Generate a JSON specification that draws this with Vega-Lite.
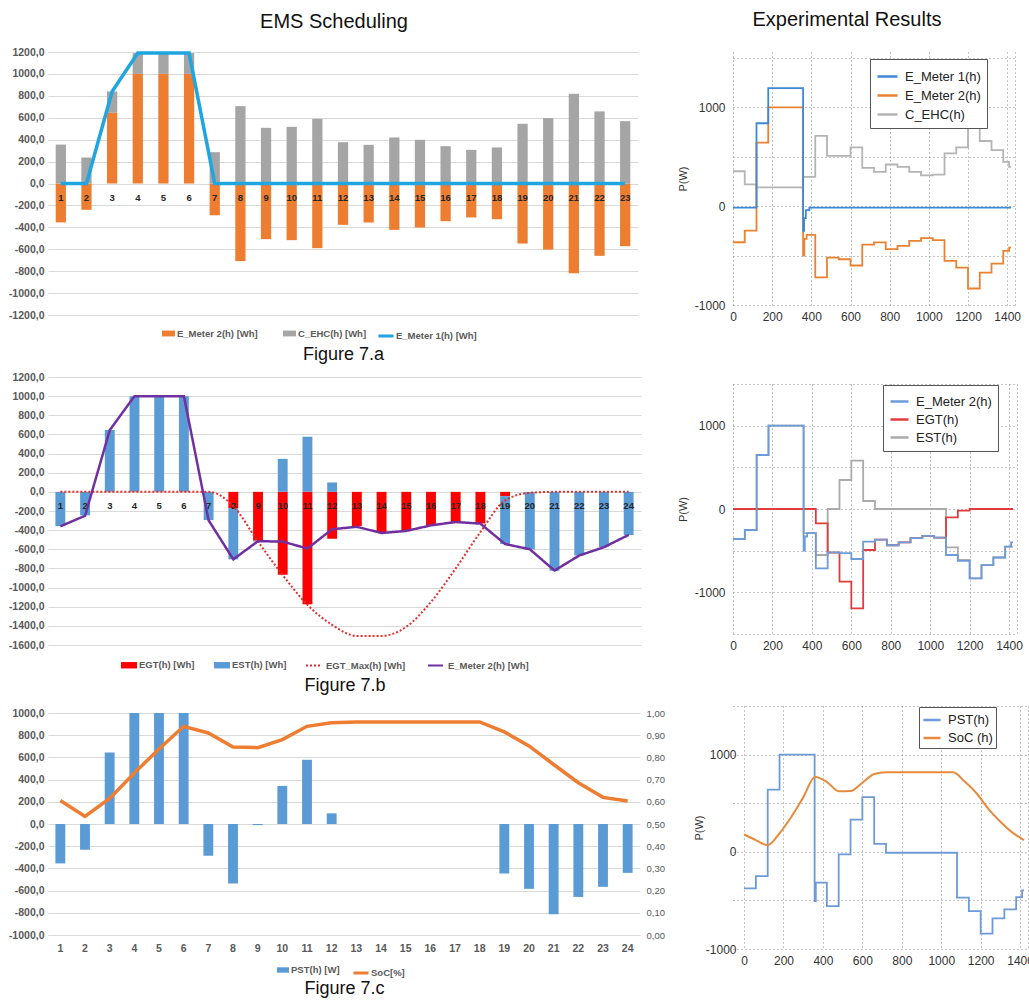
{
  "$schema": "https://vega.github.io/schema/vega-lite/v6.json",
  "padding": {"left": 8, "top": 10, "right": 0, "bottom": 0},
  "background": "white",
  "config": {
    "font": "Liberation Sans",
    "view": {"stroke": null},
    "legend": {"labelFont": "Liberation Sans"},
    "axis": {"labelFont": "Liberation Sans", "titleFont": "Liberation Sans", "labelOverlap": false}
  },
  "datasets": {
    "a_bars": [
      {"h":1,"s":"E_Meter 2(h) [Wh]","v":-355},{"h":1,"s":"C_EHC(h) [Wh]","v":355},
      {"h":2,"s":"E_Meter 2(h) [Wh]","v":-240},{"h":2,"s":"C_EHC(h) [Wh]","v":237},
      {"h":3,"s":"E_Meter 2(h) [Wh]","v":645},{"h":3,"s":"C_EHC(h) [Wh]","v":195},
      {"h":4,"s":"E_Meter 2(h) [Wh]","v":1000},{"h":4,"s":"C_EHC(h) [Wh]","v":190},
      {"h":5,"s":"E_Meter 2(h) [Wh]","v":1000},{"h":5,"s":"C_EHC(h) [Wh]","v":190},
      {"h":6,"s":"E_Meter 2(h) [Wh]","v":1000},{"h":6,"s":"C_EHC(h) [Wh]","v":190},
      {"h":7,"s":"E_Meter 2(h) [Wh]","v":-290},{"h":7,"s":"C_EHC(h) [Wh]","v":286},
      {"h":8,"s":"E_Meter 2(h) [Wh]","v":-708},{"h":8,"s":"C_EHC(h) [Wh]","v":706},
      {"h":9,"s":"E_Meter 2(h) [Wh]","v":-508},{"h":9,"s":"C_EHC(h) [Wh]","v":508},
      {"h":10,"s":"E_Meter 2(h) [Wh]","v":-517},{"h":10,"s":"C_EHC(h) [Wh]","v":517},
      {"h":11,"s":"E_Meter 2(h) [Wh]","v":-590},{"h":11,"s":"C_EHC(h) [Wh]","v":590},
      {"h":12,"s":"E_Meter 2(h) [Wh]","v":-377},{"h":12,"s":"C_EHC(h) [Wh]","v":377},
      {"h":13,"s":"E_Meter 2(h) [Wh]","v":-356},{"h":13,"s":"C_EHC(h) [Wh]","v":353},
      {"h":14,"s":"E_Meter 2(h) [Wh]","v":-423},{"h":14,"s":"C_EHC(h) [Wh]","v":420},
      {"h":15,"s":"E_Meter 2(h) [Wh]","v":-402},{"h":15,"s":"C_EHC(h) [Wh]","v":399},
      {"h":16,"s":"E_Meter 2(h) [Wh]","v":-344},{"h":16,"s":"C_EHC(h) [Wh]","v":341},
      {"h":17,"s":"E_Meter 2(h) [Wh]","v":-310},{"h":17,"s":"C_EHC(h) [Wh]","v":307},
      {"h":18,"s":"E_Meter 2(h) [Wh]","v":-326},{"h":18,"s":"C_EHC(h) [Wh]","v":329},
      {"h":19,"s":"E_Meter 2(h) [Wh]","v":-548},{"h":19,"s":"C_EHC(h) [Wh]","v":545},
      {"h":20,"s":"E_Meter 2(h) [Wh]","v":-603},{"h":20,"s":"C_EHC(h) [Wh]","v":597},
      {"h":21,"s":"E_Meter 2(h) [Wh]","v":-819},{"h":21,"s":"C_EHC(h) [Wh]","v":819},
      {"h":22,"s":"E_Meter 2(h) [Wh]","v":-660},{"h":22,"s":"C_EHC(h) [Wh]","v":658},
      {"h":23,"s":"E_Meter 2(h) [Wh]","v":-572},{"h":23,"s":"C_EHC(h) [Wh]","v":569}
    ],
    "a_line": [
      {"h":1,"s":"E_Meter 1(h) [Wh]","v":0},{"h":2,"s":"E_Meter 1(h) [Wh]","v":0},
      {"h":3,"s":"E_Meter 1(h) [Wh]","v":840},{"h":4,"s":"E_Meter 1(h) [Wh]","v":1190},
      {"h":5,"s":"E_Meter 1(h) [Wh]","v":1190},{"h":6,"s":"E_Meter 1(h) [Wh]","v":1190},
      {"h":7,"s":"E_Meter 1(h) [Wh]","v":0},{"h":8,"s":"E_Meter 1(h) [Wh]","v":0},
      {"h":9,"s":"E_Meter 1(h) [Wh]","v":0},{"h":10,"s":"E_Meter 1(h) [Wh]","v":0},
      {"h":11,"s":"E_Meter 1(h) [Wh]","v":0},{"h":12,"s":"E_Meter 1(h) [Wh]","v":0},
      {"h":13,"s":"E_Meter 1(h) [Wh]","v":0},{"h":14,"s":"E_Meter 1(h) [Wh]","v":0},
      {"h":15,"s":"E_Meter 1(h) [Wh]","v":0},{"h":16,"s":"E_Meter 1(h) [Wh]","v":0},
      {"h":17,"s":"E_Meter 1(h) [Wh]","v":0},{"h":18,"s":"E_Meter 1(h) [Wh]","v":0},
      {"h":19,"s":"E_Meter 1(h) [Wh]","v":0},{"h":20,"s":"E_Meter 1(h) [Wh]","v":0},
      {"h":21,"s":"E_Meter 1(h) [Wh]","v":0},{"h":22,"s":"E_Meter 1(h) [Wh]","v":0},
      {"h":23,"s":"E_Meter 1(h) [Wh]","v":0}
    ],
    "hours24": [
      {"h":1},{"h":2},{"h":3},{"h":4},{"h":5},{"h":6},{"h":7},{"h":8},{"h":9},{"h":10},{"h":11},{"h":12},
      {"h":13},{"h":14},{"h":15},{"h":16},{"h":17},{"h":18},{"h":19},{"h":20},{"h":21},{"h":22},{"h":23},{"h":24}
    ],
    "b_bars": [
      {"h":1,"s":"EST(h) [Wh]","v":-358},{"h":2,"s":"EST(h) [Wh]","v":-245},{"h":3,"s":"EST(h) [Wh]","v":647},
      {"h":4,"s":"EST(h) [Wh]","v":1000},{"h":5,"s":"EST(h) [Wh]","v":1000},{"h":6,"s":"EST(h) [Wh]","v":1000},
      {"h":7,"s":"EST(h) [Wh]","v":-295},{"h":8,"s":"EGT(h) [Wh]","v":-170},{"h":8,"s":"EST(h) [Wh]","v":-535},
      {"h":9,"s":"EGT(h) [Wh]","v":-510},{"h":9,"s":"EST(h) [Wh]","v":-8},
      {"h":10,"s":"EGT(h) [Wh]","v":-866},{"h":10,"s":"EST(h) [Wh]","v":345},
      {"h":11,"s":"EGT(h) [Wh]","v":-1175},{"h":11,"s":"EST(h) [Wh]","v":577},
      {"h":12,"s":"EGT(h) [Wh]","v":-490},{"h":12,"s":"EST(h) [Wh]","v":98},
      {"h":13,"s":"EGT(h) [Wh]","v":-357},{"h":14,"s":"EGT(h) [Wh]","v":-430},{"h":15,"s":"EGT(h) [Wh]","v":-402},
      {"h":16,"s":"EGT(h) [Wh]","v":-350},{"h":17,"s":"EGT(h) [Wh]","v":-315},{"h":18,"s":"EGT(h) [Wh]","v":-330},
      {"h":19,"s":"EGT(h) [Wh]","v":-45},{"h":19,"s":"EST(h) [Wh]","v":-500},
      {"h":20,"s":"EST(h) [Wh]","v":-600},{"h":21,"s":"EST(h) [Wh]","v":-825},{"h":22,"s":"EST(h) [Wh]","v":-665},
      {"h":23,"s":"EST(h) [Wh]","v":-578},{"h":24,"s":"EST(h) [Wh]","v":-452}
    ],
    "b_max": [
      {"h":1,"s":"EGT_Max(h) [Wh]","v":0},{"h":2,"s":"EGT_Max(h) [Wh]","v":0},{"h":3,"s":"EGT_Max(h) [Wh]","v":0},
      {"h":4,"s":"EGT_Max(h) [Wh]","v":0},{"h":5,"s":"EGT_Max(h) [Wh]","v":0},{"h":6,"s":"EGT_Max(h) [Wh]","v":0},
      {"h":7,"s":"EGT_Max(h) [Wh]","v":0},{"h":8,"s":"EGT_Max(h) [Wh]","v":-150},{"h":9,"s":"EGT_Max(h) [Wh]","v":-520},
      {"h":10,"s":"EGT_Max(h) [Wh]","v":-870},{"h":11,"s":"EGT_Max(h) [Wh]","v":-1180},{"h":12,"s":"EGT_Max(h) [Wh]","v":-1390},
      {"h":13,"s":"EGT_Max(h) [Wh]","v":-1505},{"h":14,"s":"EGT_Max(h) [Wh]","v":-1505},{"h":15,"s":"EGT_Max(h) [Wh]","v":-1410},
      {"h":16,"s":"EGT_Max(h) [Wh]","v":-1150},{"h":17,"s":"EGT_Max(h) [Wh]","v":-800},{"h":18,"s":"EGT_Max(h) [Wh]","v":-420},
      {"h":19,"s":"EGT_Max(h) [Wh]","v":-90},{"h":20,"s":"EGT_Max(h) [Wh]","v":-10},{"h":21,"s":"EGT_Max(h) [Wh]","v":0},
      {"h":22,"s":"EGT_Max(h) [Wh]","v":0},{"h":23,"s":"EGT_Max(h) [Wh]","v":0},{"h":24,"s":"EGT_Max(h) [Wh]","v":0}
    ],
    "b_em2": [
      {"h":1,"s":"E_Meter 2(h) [Wh]","v":-360},{"h":2,"s":"E_Meter 2(h) [Wh]","v":-250},{"h":3,"s":"E_Meter 2(h) [Wh]","v":645},
      {"h":4,"s":"E_Meter 2(h) [Wh]","v":1000},{"h":5,"s":"E_Meter 2(h) [Wh]","v":1000},{"h":6,"s":"E_Meter 2(h) [Wh]","v":1000},
      {"h":7,"s":"E_Meter 2(h) [Wh]","v":-297},{"h":8,"s":"E_Meter 2(h) [Wh]","v":-705},{"h":9,"s":"E_Meter 2(h) [Wh]","v":-515},
      {"h":10,"s":"E_Meter 2(h) [Wh]","v":-520},{"h":11,"s":"E_Meter 2(h) [Wh]","v":-592},{"h":12,"s":"E_Meter 2(h) [Wh]","v":-390},
      {"h":13,"s":"E_Meter 2(h) [Wh]","v":-365},{"h":14,"s":"E_Meter 2(h) [Wh]","v":-430},{"h":15,"s":"E_Meter 2(h) [Wh]","v":-408},
      {"h":16,"s":"E_Meter 2(h) [Wh]","v":-350},{"h":17,"s":"E_Meter 2(h) [Wh]","v":-315},{"h":18,"s":"E_Meter 2(h) [Wh]","v":-332},
      {"h":19,"s":"E_Meter 2(h) [Wh]","v":-545},{"h":20,"s":"E_Meter 2(h) [Wh]","v":-600},{"h":21,"s":"E_Meter 2(h) [Wh]","v":-822},
      {"h":22,"s":"E_Meter 2(h) [Wh]","v":-665},{"h":23,"s":"E_Meter 2(h) [Wh]","v":-578},{"h":24,"s":"E_Meter 2(h) [Wh]","v":-450}
    ],
    "c_bars": [
      {"h":1,"s":"PST(h) [W]","v":-355},{"h":2,"s":"PST(h) [W]","v":-232},{"h":3,"s":"PST(h) [W]","v":645},
      {"h":4,"s":"PST(h) [W]","v":1000},{"h":5,"s":"PST(h) [W]","v":1000},{"h":6,"s":"PST(h) [W]","v":1000},
      {"h":7,"s":"PST(h) [W]","v":-286},{"h":8,"s":"PST(h) [W]","v":-536},{"h":9,"s":"PST(h) [W]","v":-10},
      {"h":10,"s":"PST(h) [W]","v":343},{"h":11,"s":"PST(h) [W]","v":578},{"h":12,"s":"PST(h) [W]","v":96},
      {"h":19,"s":"PST(h) [W]","v":-446},{"h":20,"s":"PST(h) [W]","v":-584},{"h":21,"s":"PST(h) [W]","v":-813},
      {"h":22,"s":"PST(h) [W]","v":-657},{"h":23,"s":"PST(h) [W]","v":-566},{"h":24,"s":"PST(h) [W]","v":-440}
    ],
    "c_line": [
      {"h":1,"s":"SoC[%]","soc":0.606},{"h":2,"s":"SoC[%]","soc":0.534},{"h":3,"s":"SoC[%]","soc":0.615},
      {"h":4,"s":"SoC[%]","soc":0.73},{"h":5,"s":"SoC[%]","soc":0.838},{"h":6,"s":"SoC[%]","soc":0.94},
      {"h":7,"s":"SoC[%]","soc":0.91},{"h":8,"s":"SoC[%]","soc":0.847},{"h":9,"s":"SoC[%]","soc":0.844},
      {"h":10,"s":"SoC[%]","soc":0.88},{"h":11,"s":"SoC[%]","soc":0.94},{"h":12,"s":"SoC[%]","soc":0.956},
      {"h":13,"s":"SoC[%]","soc":0.96},{"h":14,"s":"SoC[%]","soc":0.96},{"h":15,"s":"SoC[%]","soc":0.96},
      {"h":16,"s":"SoC[%]","soc":0.96},{"h":17,"s":"SoC[%]","soc":0.96},{"h":18,"s":"SoC[%]","soc":0.96},
      {"h":19,"s":"SoC[%]","soc":0.915},{"h":20,"s":"SoC[%]","soc":0.852},{"h":21,"s":"SoC[%]","soc":0.768},
      {"h":22,"s":"SoC[%]","soc":0.686},{"h":23,"s":"SoC[%]","soc":0.62},{"h":24,"s":"SoC[%]","soc":0.604}
    ],
    "ra": [
      {"t":0,"s":"C_EHC(h)","v":354},{"t":60,"s":"C_EHC(h)","v":221},{"t":120,"s":"C_EHC(h)","v":190},{"t":358,"s":"C_EHC(h)","v":296},
      {"t":420,"s":"C_EHC(h)","v":711},{"t":480,"s":"C_EHC(h)","v":510},{"t":600,"s":"C_EHC(h)","v":595},{"t":660,"s":"C_EHC(h)","v":388},
      {"t":720,"s":"C_EHC(h)","v":347},{"t":780,"s":"C_EHC(h)","v":422},{"t":840,"s":"C_EHC(h)","v":398},{"t":900,"s":"C_EHC(h)","v":347},
      {"t":960,"s":"C_EHC(h)","v":313},{"t":1020,"s":"C_EHC(h)","v":320},{"t":1080,"s":"C_EHC(h)","v":534},{"t":1140,"s":"C_EHC(h)","v":595},
      {"t":1200,"s":"C_EHC(h)","v":813},{"t":1260,"s":"C_EHC(h)","v":660},{"t":1320,"s":"C_EHC(h)","v":568},{"t":1380,"s":"C_EHC(h)","v":449},
      {"t":1410,"s":"C_EHC(h)","v":398},{"t":1420,"s":"C_EHC(h)","v":398},
      {"t":0,"s":"E_Meter 2(h)","v":-365},{"t":60,"s":"E_Meter 2(h)","v":-248},{"t":120,"s":"E_Meter 2(h)","v":643},{"t":180,"s":"E_Meter 2(h)","v":1000},
      {"t":358,"s":"E_Meter 2(h)","v":-500},{"t":364,"s":"E_Meter 2(h)","v":-330},{"t":376,"s":"E_Meter 2(h)","v":-290},{"t":420,"s":"E_Meter 2(h)","v":-720},
      {"t":480,"s":"E_Meter 2(h)","v":-520},{"t":540,"s":"E_Meter 2(h)","v":-537},{"t":600,"s":"E_Meter 2(h)","v":-600},{"t":660,"s":"E_Meter 2(h)","v":-388},
      {"t":720,"s":"E_Meter 2(h)","v":-367},{"t":780,"s":"E_Meter 2(h)","v":-435},{"t":840,"s":"E_Meter 2(h)","v":-401},{"t":900,"s":"E_Meter 2(h)","v":-350},
      {"t":960,"s":"E_Meter 2(h)","v":-323},{"t":1020,"s":"E_Meter 2(h)","v":-343},{"t":1080,"s":"E_Meter 2(h)","v":-554},{"t":1140,"s":"E_Meter 2(h)","v":-622},
      {"t":1200,"s":"E_Meter 2(h)","v":-833},{"t":1260,"s":"E_Meter 2(h)","v":-673},{"t":1320,"s":"E_Meter 2(h)","v":-582},{"t":1380,"s":"E_Meter 2(h)","v":-452},
      {"t":1410,"s":"E_Meter 2(h)","v":-420},{"t":1420,"s":"E_Meter 2(h)","v":-420},
      {"t":0,"s":"E_Meter 1(h)","v":-15},{"t":120,"s":"E_Meter 1(h)","v":840},{"t":180,"s":"E_Meter 1(h)","v":1195},{"t":358,"s":"E_Meter 1(h)","v":-250},
      {"t":363,"s":"E_Meter 1(h)","v":-120},{"t":372,"s":"E_Meter 1(h)","v":-40},{"t":390,"s":"E_Meter 1(h)","v":-15},{"t":1420,"s":"E_Meter 1(h)","v":-15}
    ],
    "rb": [
      {"t":0,"s":"EST(h)","v":-360},{"t":60,"s":"EST(h)","v":-252},{"t":120,"s":"EST(h)","v":648},{"t":180,"s":"EST(h)","v":1000},
      {"t":358,"s":"EST(h)","v":-290},{"t":420,"s":"EST(h)","v":-552},{"t":480,"s":"EST(h)","v":0},{"t":540,"s":"EST(h)","v":348},
      {"t":600,"s":"EST(h)","v":580},{"t":660,"s":"EST(h)","v":96},{"t":720,"s":"EST(h)","v":0},{"t":1080,"s":"EST(h)","v":-460},
      {"t":1140,"s":"EST(h)","v":-610},{"t":1200,"s":"EST(h)","v":-833},{"t":1260,"s":"EST(h)","v":-673},{"t":1320,"s":"EST(h)","v":-582},
      {"t":1380,"s":"EST(h)","v":-452},{"t":1420,"s":"EST(h)","v":-452},
      {"t":0,"s":"EGT(h)","v":0},{"t":420,"s":"EGT(h)","v":-172},{"t":480,"s":"EGT(h)","v":-524},{"t":540,"s":"EGT(h)","v":-872},
      {"t":600,"s":"EGT(h)","v":-1192},{"t":660,"s":"EGT(h)","v":-492},{"t":720,"s":"EGT(h)","v":-367},{"t":780,"s":"EGT(h)","v":-435},
      {"t":840,"s":"EGT(h)","v":-401},{"t":900,"s":"EGT(h)","v":-350},{"t":960,"s":"EGT(h)","v":-323},{"t":1020,"s":"EGT(h)","v":-343},
      {"t":1080,"s":"EGT(h)","v":-100},{"t":1140,"s":"EGT(h)","v":-20},{"t":1200,"s":"EGT(h)","v":0},{"t":1420,"s":"EGT(h)","v":0},
      {"t":0,"s":"E_Meter 2(h)","v":-360},{"t":60,"s":"E_Meter 2(h)","v":-252},{"t":120,"s":"E_Meter 2(h)","v":648},{"t":180,"s":"E_Meter 2(h)","v":1000},
      {"t":358,"s":"E_Meter 2(h)","v":-500},{"t":364,"s":"E_Meter 2(h)","v":-330},{"t":376,"s":"E_Meter 2(h)","v":-290},{"t":420,"s":"E_Meter 2(h)","v":-712},
      {"t":480,"s":"E_Meter 2(h)","v":-520},{"t":540,"s":"E_Meter 2(h)","v":-530},{"t":600,"s":"E_Meter 2(h)","v":-600},{"t":660,"s":"E_Meter 2(h)","v":-392},
      {"t":720,"s":"E_Meter 2(h)","v":-367},{"t":780,"s":"E_Meter 2(h)","v":-435},{"t":840,"s":"E_Meter 2(h)","v":-401},{"t":900,"s":"E_Meter 2(h)","v":-350},
      {"t":960,"s":"E_Meter 2(h)","v":-323},{"t":1020,"s":"E_Meter 2(h)","v":-343},{"t":1080,"s":"E_Meter 2(h)","v":-552},{"t":1140,"s":"E_Meter 2(h)","v":-622},
      {"t":1200,"s":"E_Meter 2(h)","v":-833},{"t":1260,"s":"E_Meter 2(h)","v":-673},{"t":1320,"s":"E_Meter 2(h)","v":-582},{"t":1380,"s":"E_Meter 2(h)","v":-452},
      {"t":1410,"s":"E_Meter 2(h)","v":-400},{"t":1420,"s":"E_Meter 2(h)","v":-400}
    ],
    "rc_step": [
      {"t":0,"s":"PST(h)","v":-377},{"t":60,"s":"PST(h)","v":-250},{"t":120,"s":"PST(h)","v":640},{"t":180,"s":"PST(h)","v":1000},
      {"t":358,"s":"PST(h)","v":-507},{"t":364,"s":"PST(h)","v":-318},{"t":420,"s":"PST(h)","v":-558},{"t":480,"s":"PST(h)","v":-27},
      {"t":540,"s":"PST(h)","v":332},{"t":600,"s":"PST(h)","v":562},{"t":660,"s":"PST(h)","v":82},{"t":720,"s":"PST(h)","v":-10},
      {"t":1080,"s":"PST(h)","v":-472},{"t":1140,"s":"PST(h)","v":-610},{"t":1200,"s":"PST(h)","v":-842},{"t":1260,"s":"PST(h)","v":-685},
      {"t":1320,"s":"PST(h)","v":-592},{"t":1380,"s":"PST(h)","v":-466},{"t":1410,"s":"PST(h)","v":-397},{"t":1420,"s":"PST(h)","v":-397}
    ],
    "rc_soc": [
      {"t":0,"s":"SoC (h)","v":178},{"t":60,"s":"SoC (h)","v":120},{"t":120,"s":"SoC (h)","v":68},{"t":180,"s":"SoC (h)","v":190},
      {"t":240,"s":"SoC (h)","v":360},{"t":300,"s":"SoC (h)","v":560},{"t":360,"s":"SoC (h)","v":770},{"t":420,"s":"SoC (h)","v":720},
      {"t":480,"s":"SoC (h)","v":623},{"t":540,"s":"SoC (h)","v":625},{"t":600,"s":"SoC (h)","v":710},{"t":660,"s":"SoC (h)","v":800},
      {"t":720,"s":"SoC (h)","v":818},{"t":1060,"s":"SoC (h)","v":818},{"t":1120,"s":"SoC (h)","v":720},{"t":1180,"s":"SoC (h)","v":600},
      {"t":1240,"s":"SoC (h)","v":440},{"t":1300,"s":"SoC (h)","v":310},{"t":1360,"s":"SoC (h)","v":200},{"t":1420,"s":"SoC (h)","v":120}
    ]
  },
  "resolve": {"scale": {"color": "independent", "stroke": "independent", "strokeDash": "independent", "x": "independent", "y": "independent"}, "legend": {"color": "independent", "stroke": "independent", "strokeDash": "independent"}},
  "spacing": 12,
  "hconcat": [
    {
      "resolve": {"scale": {"color": "independent", "stroke": "independent", "strokeDash": "independent", "x": "independent", "y": "independent"}, "legend": {"color": "independent", "stroke": "independent", "strokeDash": "independent"}},
      "spacing": 9,
      "vconcat": [
        {
          "width": 590, "height": 263,
          "view": {"stroke": null},
          "title": {"text": "EMS Scheduling", "fontSize": 20, "fontWeight": "normal", "color": "#111", "font": "Liberation Sans", "anchor": "middle", "frame": "group", "dx": -9, "offset": 14},
          "encoding": {
            "x": {"field": "h", "type": "ordinal", "scale": {"paddingInner": 0.6, "paddingOuter": 0.3},
                  "axis": {"labels": false, "ticks": false, "domain": false, "grid": false, "title": "Figure 7.a", "titleFontSize": 18, "titleFontWeight": "normal", "titleColor": "#111", "titlePadding": 30}}
          },
          "layer": [
            {
              "data": {"name": "a_bars"},
              "mark": {"type": "bar"},
              "encoding": {
                "y": {"field": "v", "type": "quantitative", "stack": "zero", "scale": {"domain": [-1200, 1200], "nice": false},
                      "axis": {"values": [-1200,-1000,-800,-600,-400,-200,0,200,400,600,800,1000,1200], "labelExpr": "toString(datum.value) + ',0'", "labelOverlap": false, "labelSeparation": 0, "grid": true, "gridColor": "#d9d9d9", "domain": false, "ticks": false, "labelFontSize": 10.5, "labelFontWeight": "bold", "labelColor": "#595959", "labelPadding": 4, "title": null}},
                "color": {"field": "s", "type": "nominal", "scale": {"domain": ["E_Meter 2(h) [Wh]", "C_EHC(h) [Wh]"], "range": ["#ed7d31", "#a5a5a5"]},
                          "legend": {"orient": "none", "legendX": 114, "legendY": 275, "direction": "horizontal", "title": null, "symbolType": "M-1,-0.45L1,-0.45L1,0.45L-1,0.45Z", "symbolSize": 169, "symbolStrokeWidth": 0, "labelFontSize": 9.5, "labelFontWeight": "bold", "labelColor": "#595959", "columnPadding": 25, "labelOffset": 2}},
                "order": {"field": "s", "sort": "descending"}
              }
            },
            {
              "data": {"name": "a_line"},
              "mark": {"type": "text", "dy": 14, "fontSize": 9.5, "fontWeight": "bold", "color": "#262626"},
              "encoding": {"y": {"datum": 0, "type": "quantitative", "axis": {"values": [-1200,-1000,-800,-600,-400,-200,0,200,400,600,800,1000,1200], "labelExpr": "toString(datum.value) + ',0'", "labelOverlap": false, "labelSeparation": 0, "grid": true, "gridColor": "#d9d9d9", "domain": false, "ticks": false, "labelFontSize": 10.5, "labelFontWeight": "bold", "labelColor": "#595959", "labelPadding": 4, "title": null}}, "text": {"field": "h", "type": "nominal"}}
            },
            {
              "data": {"name": "a_line"},
              "mark": {"type": "line", "strokeWidth": 3.5},
              "encoding": {
                "y": {"field": "v", "type": "quantitative", "axis": {"values": [-1200,-1000,-800,-600,-400,-200,0,200,400,600,800,1000,1200], "labelExpr": "toString(datum.value) + ',0'", "labelOverlap": false, "labelSeparation": 0, "grid": true, "gridColor": "#d9d9d9", "domain": false, "ticks": false, "labelFontSize": 10.5, "labelFontWeight": "bold", "labelColor": "#595959", "labelPadding": 4, "title": null}},
                "stroke": {"field": "s", "type": "nominal", "scale": {"domain": ["E_Meter 1(h) [Wh]"], "range": ["#1fa5e0"]},
                           "legend": {"orient": "none", "legendX": 329, "legendY": 275, "direction": "horizontal", "title": null, "symbolType": "stroke", "symbolSize": 225, "symbolStrokeWidth": 3, "labelFontSize": 9.5, "labelFontWeight": "bold", "labelColor": "#595959", "labelOffset": 1}}
              }
            }
          ]
        },
        {
          "resolve": {"scale": {"color": "independent", "stroke": "independent", "strokeDash": "independent", "x": "independent", "y": "independent"}, "legend": {"color": "independent", "stroke": "independent", "strokeDash": "independent"}},
          "spacing": 14,
          "vconcat": [
            {
              "width": 593, "height": 268,
              "view": {"stroke": null},
              "encoding": {
                "x": {"field": "h", "type": "ordinal", "scale": {"paddingInner": 0.6, "paddingOuter": 0.3},
                      "axis": {"labels": false, "ticks": false, "domain": false, "grid": false, "title": "Figure 7.b", "titleFontSize": 18, "titleFontWeight": "normal", "titleColor": "#111", "titlePadding": 31}}
              },
              "layer": [
                {
                  "data": {"name": "b_bars"},
                  "mark": {"type": "bar"},
                  "encoding": {
                    "y": {"field": "v", "type": "quantitative", "stack": "zero", "scale": {"domain": [-1600, 1200], "nice": false},
                          "axis": {"values": [-1600,-1400,-1200,-1000,-800,-600,-400,-200,0,200,400,600,800,1000,1200], "labelExpr": "toString(datum.value) + ',0'", "labelOverlap": false, "labelSeparation": 0, "grid": true, "gridColor": "#d9d9d9", "domain": false, "ticks": false, "labelFontSize": 10.5, "labelFontWeight": "bold", "labelColor": "#595959", "labelPadding": 4, "title": null}},
                    "color": {"field": "s", "type": "nominal", "scale": {"domain": ["EGT(h) [Wh]", "EST(h) [Wh]"], "range": ["#ff0000", "#5b9bd5"]},
                              "legend": {"orient": "none", "legendX": 73, "legendY": 280, "direction": "horizontal", "title": null, "symbolType": "M-1,-0.4L1,-0.4L1,0.4L-1,0.4Z", "symbolSize": 256, "symbolStrokeWidth": 0, "labelFontSize": 9.5, "labelFontWeight": "bold", "labelColor": "#595959", "columnPadding": 19, "labelOffset": 2}},
                    "order": {"field": "s", "sort": "ascending"}
                  }
                },
                {
                  "data": {"name": "hours24"},
                  "mark": {"type": "text", "dy": 14, "fontSize": 9.5, "fontWeight": "bold", "color": "#262626"},
                  "encoding": {"y": {"datum": 0, "type": "quantitative", "axis": {"values": [-1600,-1400,-1200,-1000,-800,-600,-400,-200,0,200,400,600,800,1000,1200], "labelExpr": "toString(datum.value) + ',0'", "labelOverlap": false, "labelSeparation": 0, "grid": true, "gridColor": "#d9d9d9", "domain": false, "ticks": false, "labelFontSize": 10.5, "labelFontWeight": "bold", "labelColor": "#595959", "labelPadding": 4, "title": null}}, "text": {"field": "h", "type": "nominal"}}
                },
                {
                  "data": {"name": "b_max"},
                  "mark": {"type": "line", "strokeWidth": 2, "interpolate": "monotone"},
                  "encoding": {
                    "y": {"field": "v", "type": "quantitative", "axis": {"values": [-1600,-1400,-1200,-1000,-800,-600,-400,-200,0,200,400,600,800,1000,1200], "labelExpr": "toString(datum.value) + ',0'", "labelOverlap": false, "labelSeparation": 0, "grid": true, "gridColor": "#d9d9d9", "domain": false, "ticks": false, "labelFontSize": 10.5, "labelFontWeight": "bold", "labelColor": "#595959", "labelPadding": 4, "title": null}},
                    "stroke": {"field": "s", "type": "nominal", "scale": {"domain": ["EGT_Max(h) [Wh]", "E_Meter 2(h) [Wh]"], "range": ["#e0302a", "#7030a0"]},
                               "legend": {"orient": "none", "legendX": 257, "legendY": 280, "direction": "horizontal", "title": null, "symbolType": "stroke", "symbolSize": 225, "symbolStrokeWidth": 2, "labelFontSize": 9.5, "labelFontWeight": "bold", "labelColor": "#595959", "columnPadding": 18, "labelOffset": 4}},
                    "strokeDash": {"field": "s", "type": "nominal", "scale": {"domain": ["EGT_Max(h) [Wh]", "E_Meter 2(h) [Wh]"], "range": [[2, 2], [1, 0]]}}
                  }
                },
                {
                  "data": {"name": "b_em2"},
                  "mark": {"type": "line", "strokeWidth": 2.5},
                  "encoding": {
                    "y": {"field": "v", "type": "quantitative", "axis": {"values": [-1600,-1400,-1200,-1000,-800,-600,-400,-200,0,200,400,600,800,1000,1200], "labelExpr": "toString(datum.value) + ',0'", "labelOverlap": false, "labelSeparation": 0, "grid": true, "gridColor": "#d9d9d9", "domain": false, "ticks": false, "labelFontSize": 10.5, "labelFontWeight": "bold", "labelColor": "#595959", "labelPadding": 4, "title": null}},
                    "stroke": {"field": "s", "type": "nominal"},
                    "strokeDash": {"field": "s", "type": "nominal"}
                  }
                }
              ]
            },
            {
              "width": 592, "height": 222,
              "view": {"stroke": null},
              "resolve": {"scale": {"y": "independent"}},
              "encoding": {
                "x": {"field": "h", "type": "ordinal", "scale": {"paddingInner": 0.6, "paddingOuter": 0.3},
                      "axis": {"labelAngle": 0, "labelFontSize": 10.5, "labelFontWeight": "bold", "labelColor": "#595959", "labelPadding": 8, "ticks": false, "domain": true, "domainColor": "#d9d9d9", "grid": false, "title": "Figure 7.c", "titleFontSize": 18, "titleFontWeight": "normal", "titleColor": "#111", "titlePadding": 26}}
              },
              "layer": [
                {
                  "data": {"name": "c_bars"},
                  "mark": {"type": "bar"},
                  "encoding": {
                    "y": {"field": "v", "type": "quantitative", "scale": {"domain": [-1000, 1000], "nice": false},
                          "axis": {"values": [-1000,-800,-600,-400,-200,0,200,400,600,800,1000], "labelExpr": "toString(datum.value) + ',0'", "labelOverlap": false, "grid": true, "gridColor": "#d9d9d9", "domain": false, "ticks": false, "labelFontSize": 10.5, "labelFontWeight": "bold", "labelColor": "#595959", "labelPadding": 4, "title": null}},
                    "color": {"field": "s", "type": "nominal", "scale": {"domain": ["PST(h) [W]"], "range": ["#5b9bd5"]},
                              "legend": {"orient": "none", "legendX": 229, "legendY": 251, "direction": "horizontal", "title": null, "symbolType": "M-1,-0.45L1,-0.45L1,0.45L-1,0.45Z", "symbolSize": 144, "symbolStrokeWidth": 0, "labelFontSize": 9.5, "labelFontWeight": "bold", "labelColor": "#595959", "labelOffset": 2}}
                  }
                },
                {
                  "data": {"name": "c_line"},
                  "mark": {"type": "line", "strokeWidth": 3.5},
                  "encoding": {
                    "y": {"field": "soc", "type": "quantitative", "scale": {"domain": [0, 1], "nice": false},
                          "axis": {"orient": "right", "values": [0,0.1,0.2,0.3,0.4,0.5,0.6,0.7,0.8,0.9,1], "labelExpr": "replace(format(datum.value, '.2f'), '.', ',')", "labelOverlap": false, "grid": false, "domain": false, "ticks": false, "labelFontSize": 9.5, "labelColor": "#595959", "labelPadding": 6, "title": null}},
                    "stroke": {"field": "s", "type": "nominal", "scale": {"domain": ["SoC[%]"], "range": ["#ed7d31"]},
                               "legend": {"orient": "none", "legendX": 304, "legendY": 251, "direction": "horizontal", "title": null, "symbolType": "stroke", "symbolSize": 225, "symbolStrokeWidth": 3, "labelFontSize": 9.5, "labelFontWeight": "bold", "labelColor": "#595959", "labelOffset": 1}}
                  }
                }
              ]
            }
          ]
        }
      ]
    },
    {
      "resolve": {"scale": {"color": "independent", "stroke": "independent", "strokeDash": "independent", "x": "independent", "y": "independent"}, "legend": {"color": "independent", "stroke": "independent", "strokeDash": "independent"}},
      "spacing": 56,
      "vconcat": [
        {
          "width": 282, "height": 253,
          "view": {"stroke": null},
          "title": {"text": "Experimental Results", "fontSize": 20, "fontWeight": "normal", "color": "#111", "font": "Liberation Sans", "anchor": "middle", "frame": "group", "dx": -27, "offset": 22},
          "data": {"name": "ra"},
          "mark": {"type": "line", "interpolate": "step-after", "strokeWidth": 1.8},
          "encoding": {
            "x": {"field": "t", "type": "quantitative", "scale": {"domain": [0, 1440], "nice": false},
                  "axis": {"values": [0,200,400,600,800,1000,1200,1400,1440], "labelExpr": "datum.value > 1400 ? '' : toString(datum.value)", "grid": true, "gridDash": [1, 3], "gridColor": "#888", "domain": false, "ticks": false, "labelFontSize": 12, "labelColor": "#333", "labelPadding": 6, "labelFlush": false, "title": null}},
            "y": {"field": "v", "type": "quantitative", "scale": {"domain": [-1000, 1561], "nice": false},
                  "axis": {"values": [-1000,-500,0,500,1000,1500], "labelExpr": "datum.value % 1000 === 0 ? toString(datum.value) : ''", "grid": true, "gridDash": [1, 3], "gridColor": "#888", "domain": false, "ticks": false, "labelFontSize": 12, "labelColor": "#333", "labelPadding": 8, "labelFlush": false, "title": "P(W)", "titleFontSize": 11, "titleFontWeight": "normal", "titleColor": "#333", "titlePadding": 6}},
            "color": {"field": "s", "type": "nominal", "scale": {"domain": ["E_Meter 1(h)", "E_Meter 2(h)", "C_EHC(h)"], "range": ["#3f88d6", "#ea8230", "#b4b4b4"]},
                      "legend": {"orient": "none", "legendX": 137, "legendY": 7, "title": null, "strokeColor": "#555", "fillColor": "white", "padding": 6, "labelFontSize": 13, "labelColor": "#222", "symbolType": "stroke", "symbolStrokeWidth": 2.5, "symbolSize": 400, "rowPadding": 0, "labelOffset": 6}}
          }
        },
        {
          "resolve": {"scale": {"color": "independent", "stroke": "independent", "strokeDash": "independent", "x": "independent", "y": "independent"}, "legend": {"color": "independent", "stroke": "independent", "strokeDash": "independent"}},
          "spacing": 49,
          "vconcat": [
            {
              "width": 284, "height": 250,
              "view": {"stroke": null},
              "data": {"name": "rb"},
              "mark": {"type": "line", "interpolate": "step-after", "strokeWidth": 1.8},
              "encoding": {
                "x": {"field": "t", "type": "quantitative", "scale": {"domain": [0, 1440], "nice": false},
                      "axis": {"values": [0,200,400,600,800,1000,1200,1400,1440], "labelExpr": "datum.value > 1400 ? '' : toString(datum.value)", "grid": true, "gridDash": [1, 3], "gridColor": "#888", "domain": false, "ticks": false, "labelFontSize": 12, "labelColor": "#333", "labelPadding": 6, "labelFlush": false, "title": null}},
                "y": {"field": "v", "type": "quantitative", "scale": {"domain": [-1500, 1500], "nice": false},
                      "axis": {"values": [-1500,-1000,-500,0,500,1000,1500], "labelExpr": "datum.value % 1000 === 0 ? toString(datum.value) : ''", "grid": true, "gridDash": [1, 3], "gridColor": "#888", "domain": false, "ticks": false, "labelFontSize": 12, "labelColor": "#333", "labelPadding": 8, "labelFlush": false, "title": "P(W)", "titleFontSize": 11, "titleFontWeight": "normal", "titleColor": "#333", "titlePadding": 6}},
                "color": {"field": "s", "type": "nominal", "scale": {"domain": ["E_Meter 2(h)", "EGT(h)", "EST(h)"], "range": ["#6d9ad8", "#e03c3c", "#aaaaaa"]},
                          "legend": {"orient": "none", "legendX": 150, "legendY": 1, "title": null, "strokeColor": "#555", "fillColor": "white", "padding": 6, "labelFontSize": 13, "labelColor": "#222", "symbolType": "stroke", "symbolStrokeWidth": 2.5, "symbolSize": 324, "rowPadding": 0, "labelOffset": 6}}
              }
            },
            {
              "width": 295, "height": 243,
              "view": {"stroke": null},
              "encoding": {
                "x": {"field": "t", "type": "quantitative", "scale": {"domain": [-56, 1440], "nice": false},
                      "axis": {"values": [0,200,400,600,800,1000,1200,1400,1440], "labelExpr": "datum.value > 1400 ? '' : toString(datum.value)", "grid": true, "gridDash": [1, 3], "gridColor": "#888", "domain": false, "ticks": false, "labelFontSize": 12, "labelColor": "#333", "labelPadding": 6, "labelFlush": false, "title": null}},
                "y": {"field": "v", "type": "quantitative", "scale": {"domain": [-1000, 1500], "nice": false},
                      "axis": {"offset": -11, "values": [-1000,-500,0,500,1000,1500], "labelExpr": "datum.value % 1000 === 0 ? toString(datum.value) : ''", "grid": true, "gridDash": [1, 3], "gridColor": "#888", "domain": false, "ticks": false, "labelFontSize": 12, "labelColor": "#333", "labelPadding": 8, "labelFlush": false, "title": "P(W)", "titleFontSize": 11, "titleFontWeight": "normal", "titleColor": "#333", "titlePadding": 1}},
                "color": {"field": "s", "type": "nominal", "scale": {"domain": ["PST(h)", "SoC (h)"], "range": ["#6d9ad8", "#e88a3c"]},
                          "legend": {"orient": "none", "legendX": 186, "legendY": 1, "title": null, "strokeColor": "#555", "fillColor": "white", "padding": 3, "labelFontSize": 13, "labelColor": "#222", "symbolType": "stroke", "symbolStrokeWidth": 2.5, "symbolSize": 289, "rowPadding": 1, "labelOffset": 6}}
              },
              "layer": [
                {"data": {"name": "rc_step"}, "mark": {"type": "line", "interpolate": "step-after", "strokeWidth": 1.8}},
                {"data": {"name": "rc_soc"}, "mark": {"type": "line", "interpolate": "monotone", "strokeWidth": 2}}
              ]
            }
          ]
        }
      ]
    }
  ]
}
